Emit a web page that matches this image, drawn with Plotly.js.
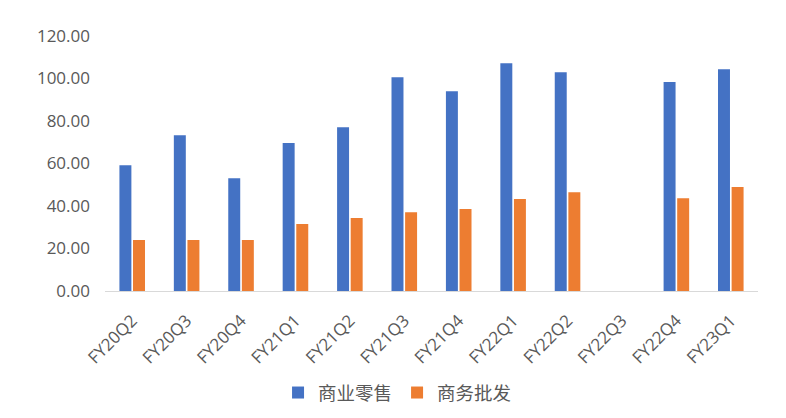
<!DOCTYPE html>
<html>
<head>
<meta charset="utf-8">
<script src="https://cdn.plot.ly/plotly-3.0.1.min.js"></script>
<style>html,body{margin:0;padding:0;background:#fff;}#chart{width:786px;height:418px;}</style>
</head>
<body>
<div id="chart"></div>
<script>
const categories = ["FY20Q2","FY20Q3","FY20Q4","FY21Q1","FY21Q2","FY21Q3","FY21Q4","FY22Q1","FY22Q2","FY22Q3","FY22Q4","FY23Q1"];
const retail = [59.2, 73.3, 53.1, 69.6, 77.1, 100.6, 94.0, 107.2, 103.0, null, 98.3, 104.4];
const wholesale = [24.0, 24.0, 24.0, 31.5, 34.3, 37.1, 38.6, 43.3, 46.5, null, 43.7, 48.9];
const seriesNames = ["商业零售", "商务批发"];
const yTicks = [0, 20, 40, 60, 80, 100, 120];

const data = [
  {type: "bar", x: categories, y: retail, name: seriesNames[0], marker: {color: "#4472C4"}},
  {type: "bar", x: categories, y: wholesale, name: seriesNames[1], marker: {color: "#ED7D31"}}
];
const layout = {
  width: 786, height: 418,
  margin: {l: 105, r: 28, t: 36, b: 127, autoexpand: false},
  paper_bgcolor: "#fff", plot_bgcolor: "#fff",
  font: {family: "Open Sans, Noto Sans CJK SC, sans-serif", color: "#595959", size: 16},
  barmode: "group", bargap: 0.5, bargroupgap: 0.12,
  showlegend: true,
  legend: {orientation: "h", x: 0.448, xanchor: "center", y: -0.40, yanchor: "middle",
           font: {family: "Noto Sans CJK SC, sans-serif", size: 18.5, color: "#595959"},
           itemwidth: 30, traceorder: "normal"},
  xaxis: {type: "category", tickangle: -45, showline: true, linecolor: "#D9D9D9", linewidth: 1,
          ticks: "outside", ticklen: 12, tickcolor: "rgba(0,0,0,0)", showgrid: false, zeroline: false,
          automargin: false, tickfont: {size: 17, color: "#595959"}},
  yaxis: {range: [0, 120], tickvals: yTicks, tickformat: ".2f", showgrid: false, zeroline: false,
          automargin: false, showline: false, ticks: "", ticklabelstandoff: 14,
          tickfont: {size: 17, color: "#595959"}}
};
Plotly.newPlot("chart", data, layout, {displayModeBar: false, staticPlot: true});
</script>
</body>
</html>
